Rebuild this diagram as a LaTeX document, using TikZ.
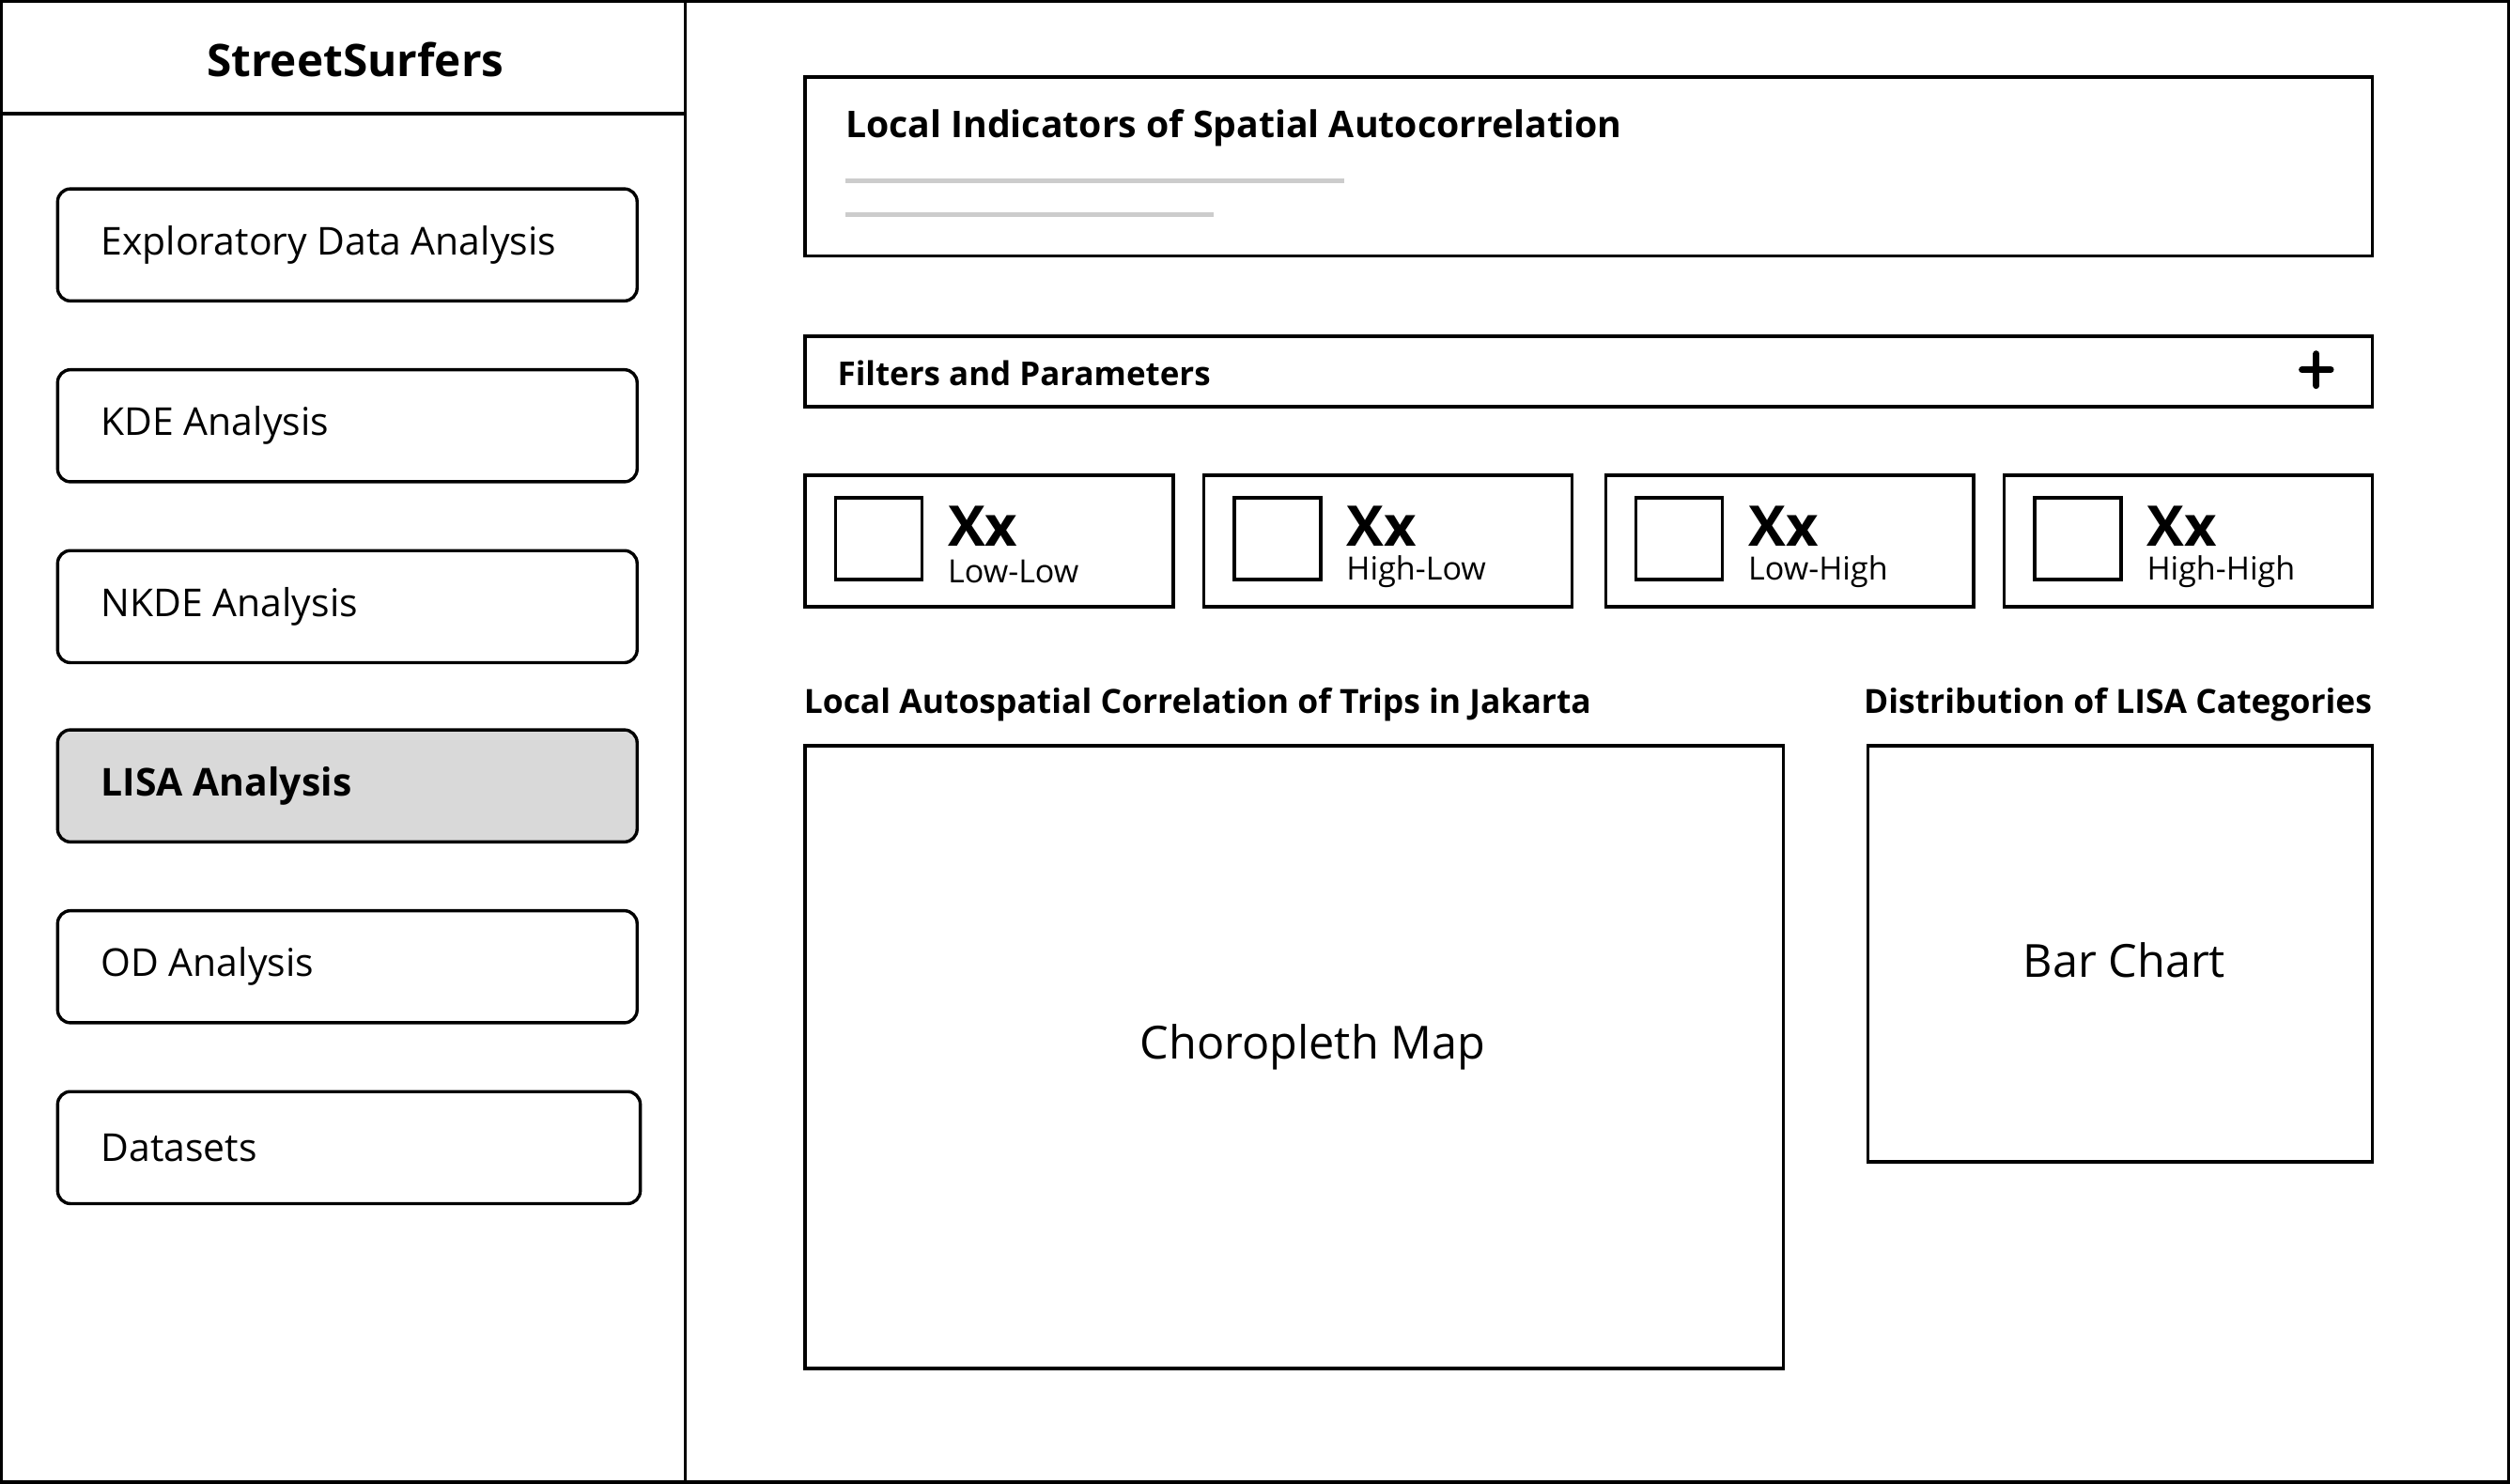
\documentclass[tikz,border=0pt]{standalone}
\usepackage{fontspec}
\setmainfont{Open Sans}
\begin{document}
\begin{tikzpicture}[x=1pt,y=-1pt,
  frame/.style={draw=black,line width=2pt,inner sep=0pt,outer sep=0pt},
  btn/.style={frame,rounded corners=8pt,minimum width=362pt,minimum height=70pt,anchor=north west},
  card/.style={frame,minimum width=230pt,minimum height=82pt,anchor=north west},
  swatch/.style={frame,minimum width=54pt,minimum height=51pt,anchor=north west},
  btntext/.style={anchor=west,inner sep=0pt,font=\fontsize{24}{28}\selectfont},
  bold/.style={inner sep=0pt,font=\fontsize{#1}{#1}\selectfont\bfseries},
  plain/.style={inner sep=0pt,font=\fontsize{#1}{#1}\selectfont},
  placeholder/.style={draw=black!20,line width=2.6pt}
]
\useasboundingbox (0,0) rectangle (1568,927);
% outer frame and sidebar
\node[frame,minimum width=1566pt,minimum height=925pt,anchor=north west] (page) at (1,1) {};
\node[frame,minimum width=427pt,minimum height=925pt,anchor=north west] (side) at (1,1) {};
\node[frame,minimum width=427pt,minimum height=70pt,anchor=north west] (head) at (1,1) {};
\node[bold=28] (brand) at (222,37) {StreetSurfers};

% sidebar buttons
\node[btn] (b1) at (36,118) {};
\node[btntext] at ([xshift=27pt]b1.west) {Exploratory Data Analysis};
\node[btn] (b2) at (36,231) {};
\node[btntext] at ([xshift=27pt]b2.west) {KDE Analysis};
\node[btn] (b3) at (36,344) {};
\node[btntext] at ([xshift=27pt]b3.west) {NKDE Analysis};
\node[btn,fill=black!15] (b4) at (36,456) {};
\node[btntext,font=\fontsize{24}{28}\selectfont\bfseries] at ([xshift=27pt]b4.west) {LISA Analysis};
\node[btn] (b5) at (36,569) {};
\node[btntext] at ([xshift=27pt]b5.west) {OD Analysis};
\node[btn,minimum width=364pt] (b6) at (36,682) {};
\node[btntext] at ([xshift=27pt]b6.west) {Datasets};

% title box
\node[frame,minimum width=979pt,minimum height=112pt,anchor=north west] (title) at (503,48) {};
\node[bold=23,anchor=west] (titletext) at (528,80) {Local Indicators of Spatial Autocorrelation};
\coordinate (l1a) at (528,113); \coordinate (l1b) at (840,113);
\coordinate (l2a) at (528,134); \coordinate (l2b) at (758,134);
\draw[placeholder] (l1a) -- (l1b);
\draw[placeholder] (l2a) -- (l2b);

% filters bar
\node[frame,minimum width=979pt,minimum height=44pt,anchor=north west] (filters) at (503,210) {};
\node[bold=20.5,anchor=west] (filtext) at (523,233) {Filters and Parameters};
\coordinate (plus) at (1447,231);
\draw[line width=4pt,line cap=round] ([xshift=-9pt]plus) -- ([xshift=9pt]plus);
\draw[line width=4pt,line cap=round] ([yshift=-10pt]plus) -- ([yshift=10pt]plus);

% cards
\foreach \x/\lab/\n in {503/Low-Low/c1,752/High-Low/c2,1003/Low-High/c3,1252/High-High/c4}{
  \node[card] (\n) at (\x,297) {};
  \node[swatch] (\n s) at (\x+19,311) {};
  \node[bold=35,anchor=west] (\n x) at (\x+89,329) {Xx};
  \node[plain=20,anchor=west] (\n l) at (\x+89,357) {\lab};
}

% section labels
\node[bold=20.8,anchor=west] (maplabel) at (502,440) {Local Autospatial Correlation of Trips in Jakarta};
\node[bold=20.8,anchor=east] (barlabel) at (1482,440) {Distribution of LISA Categories};

% map and bar chart
\node[frame,minimum width=611pt,minimum height=389pt,anchor=north west] (map) at (503,466) {};
\node[plain=28.5] at (820,654) {Choropleth Map};
\node[frame,minimum width=315pt,minimum height=260pt,anchor=north west] (bar) at (1167,466) {};
\node[plain=28.5] at (1327,600) {Bar Chart};
\end{tikzpicture}
\end{document}
